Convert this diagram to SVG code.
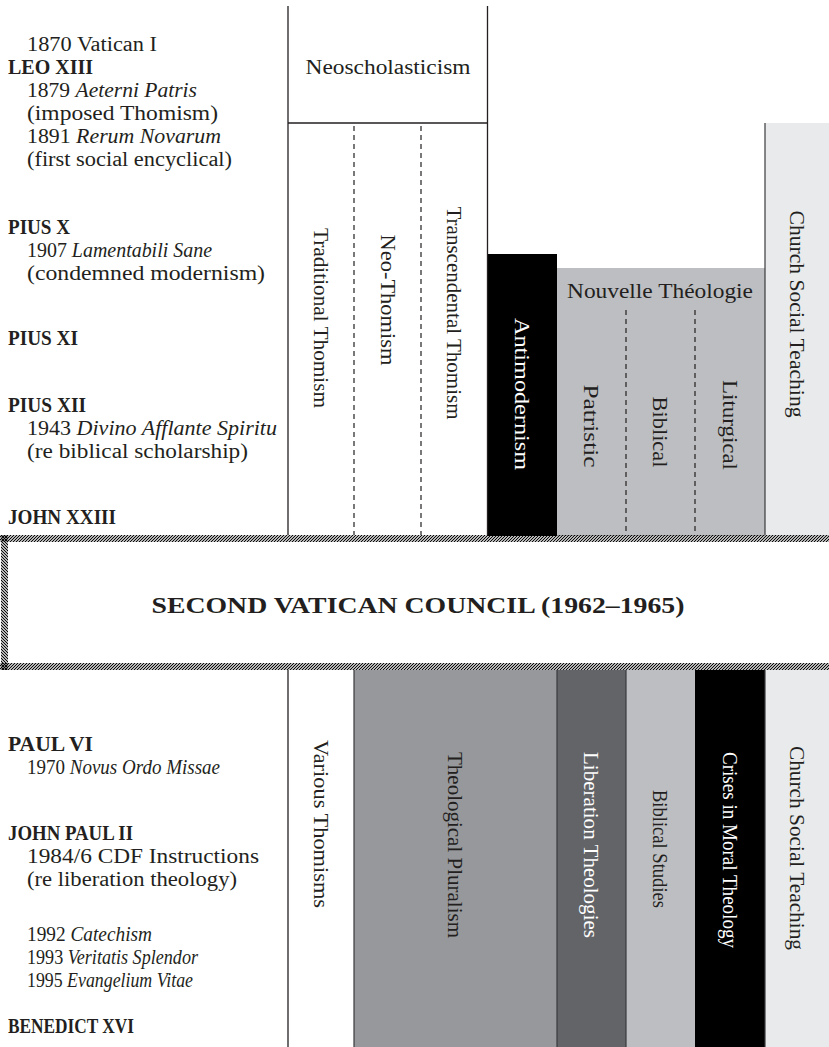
<svg xmlns="http://www.w3.org/2000/svg" width="829" height="1047" viewBox="0 0 829 1047">
<defs>
<pattern id="hatchF" patternUnits="userSpaceOnUse" width="3" height="3">
<path d="M-1,1 L1,-1 M0,3 L3,0 M2,4 L4,2" stroke="#000" stroke-width="1.1"/>
</pattern>
<pattern id="hatchB" patternUnits="userSpaceOnUse" width="3" height="3">
<path d="M-1,2 L1,4 M0,0 L3,3 M2,-1 L4,1" stroke="#000" stroke-width="1.1"/>
</pattern>
</defs>
<style>
text{font-family:"Liberation Serif","Times New Roman",serif;font-size:20px;fill:#231f20}
.b{font-weight:bold}
.i{font-style:italic}
.v{text-anchor:middle;dominant-baseline:central}
.w{fill:#fff}
.ln{stroke:#231f20;stroke-width:1.3;fill:none}
.dash{stroke:#231f20;stroke-width:1.2;stroke-dasharray:5,4;fill:none}
.edge{stroke:#3a3a3c;stroke-width:1.2}
</style>
<rect width="829" height="1047" fill="#fff"/>

<g id="popes-before">
<text x="27" y="51" textLength="130" lengthAdjust="spacingAndGlyphs">1870 Vatican I</text>
<text x="8" y="74" class="b" textLength="85" lengthAdjust="spacingAndGlyphs">LEO XIII</text>
<text x="27" y="97" textLength="170" lengthAdjust="spacingAndGlyphs">1879 <tspan class="i">Aeterni Patris</tspan></text>
<text x="27" y="120" textLength="191" lengthAdjust="spacingAndGlyphs">(imposed Thomism)</text>
<text x="27" y="143" textLength="194" lengthAdjust="spacingAndGlyphs">1891 <tspan class="i">Rerum Novarum</tspan></text>
<text x="27" y="166" textLength="205" lengthAdjust="spacingAndGlyphs">(first social encyclical)</text>
<text x="8" y="234" class="b" textLength="62" lengthAdjust="spacingAndGlyphs">PIUS X</text>
<text x="27" y="257" textLength="185" lengthAdjust="spacingAndGlyphs">1907 <tspan class="i">Lamentabili Sane</tspan></text>
<text x="27" y="280" textLength="238" lengthAdjust="spacingAndGlyphs">(condemned modernism)</text>
<text x="8" y="345" class="b" textLength="70" lengthAdjust="spacingAndGlyphs">PIUS XI</text>
<text x="8" y="412" class="b" textLength="78" lengthAdjust="spacingAndGlyphs">PIUS XII</text>
<text x="27" y="435" textLength="250" lengthAdjust="spacingAndGlyphs">1943 <tspan class="i">Divino Afflante Spiritu</tspan></text>
<text x="27" y="458" textLength="221" lengthAdjust="spacingAndGlyphs">(re biblical scholarship)</text>
<text x="8" y="524" class="b" textLength="108" lengthAdjust="spacingAndGlyphs">JOHN XXIII</text>
</g>

<g id="neoscholasticism">
<text x="388" y="74" text-anchor="middle" textLength="165" lengthAdjust="spacingAndGlyphs">Neoscholasticism</text>
</g>

<g id="church-social-top">
<rect x="765" y="123" width="64" height="413" fill="#e9eaec"/>
<text class="v" transform="translate(797,314) rotate(90)" textLength="207" lengthAdjust="spacingAndGlyphs">Church Social Teaching</text>
</g>

<g id="antimodernism">
<rect x="487" y="254" width="70" height="282" fill="#000"/>
<text class="v w" transform="translate(522,394) rotate(90)" textLength="152" lengthAdjust="spacingAndGlyphs">Antimodernism</text>
</g>

<g id="nouvelle">
<rect x="557" y="268" width="208" height="268" fill="#bdbec1"/>
<text x="660" y="298" text-anchor="middle" textLength="186" lengthAdjust="spacingAndGlyphs">Nouvelle Théologie</text>
</g>

<g id="traditional-thomism"><text class="v" transform="translate(321,318) rotate(90)" textLength="180" lengthAdjust="spacingAndGlyphs">Traditional Thomism</text></g>
<g id="neo-thomism"><text class="v" transform="translate(388,300) rotate(90)" textLength="131" lengthAdjust="spacingAndGlyphs">Neo-Thomism</text></g>
<g id="transcendental-thomism"><text class="v" transform="translate(454,313) rotate(90)" textLength="213" lengthAdjust="spacingAndGlyphs">Transcendental Thomism</text></g>
<g id="patristic"><text class="v" transform="translate(591,426) rotate(90)" textLength="83" lengthAdjust="spacingAndGlyphs">Patristic</text></g>
<g id="biblical"><text class="v" transform="translate(660,432) rotate(90)" textLength="71" lengthAdjust="spacingAndGlyphs">Biblical</text></g>
<g id="liturgical"><text class="v" transform="translate(730,425) rotate(90)" textLength="90" lengthAdjust="spacingAndGlyphs">Liturgical</text></g>

<g id="council">
<rect x="0" y="535" width="829" height="7" fill="url(#hatchF)"/>
<rect x="0" y="663" width="829" height="7" fill="url(#hatchF)"/>
<rect x="1" y="535" width="7" height="135" fill="url(#hatchB)"/>
<text x="418" y="613" text-anchor="middle" class="b" textLength="533" lengthAdjust="spacingAndGlyphs" style="font-size:23px">SECOND VATICAN COUNCIL (1962–1965)</text>
</g>

<g id="popes-after">
<text x="8" y="751" class="b" textLength="85" lengthAdjust="spacingAndGlyphs">PAUL VI</text>
<text x="27" y="774" textLength="193" lengthAdjust="spacingAndGlyphs">1970 <tspan class="i">Novus Ordo Missae</tspan></text>
<text x="8" y="840" class="b" textLength="125" lengthAdjust="spacingAndGlyphs">JOHN PAUL II</text>
<text x="27" y="863" textLength="232" lengthAdjust="spacingAndGlyphs">1984/6 CDF Instructions</text>
<text x="27" y="886" textLength="210" lengthAdjust="spacingAndGlyphs">(re liberation theology)</text>
<text x="27" y="941" textLength="125" lengthAdjust="spacingAndGlyphs">1992 <tspan class="i">Catechism</tspan></text>
<text x="27" y="964" textLength="171" lengthAdjust="spacingAndGlyphs">1993 <tspan class="i">Veritatis Splendor</tspan></text>
<text x="27" y="987" textLength="166" lengthAdjust="spacingAndGlyphs">1995 <tspan class="i">Evangelium Vitae</tspan></text>
<text x="8" y="1033" class="b" textLength="126" lengthAdjust="spacingAndGlyphs">BENEDICT XVI</text>
</g>

<g id="various-thomisms"><text class="v" transform="translate(321,824) rotate(90)" textLength="168" lengthAdjust="spacingAndGlyphs">Various Thomisms</text></g>
<g id="theological-pluralism">
<rect x="354" y="670" width="203" height="377" fill="#97989b"/>
<text class="v" transform="translate(455,845) rotate(90)" textLength="186" lengthAdjust="spacingAndGlyphs">Theological Pluralism</text>
</g>
<g id="liberation-theologies">
<rect x="557" y="670" width="69" height="377" fill="#636468"/>
<text class="v w" transform="translate(591,845) rotate(90)" textLength="186" lengthAdjust="spacingAndGlyphs">Liberation Theologies</text>
</g>
<g id="biblical-studies">
<rect x="626" y="670" width="69" height="377" fill="#bdbec1"/>
<text class="v" transform="translate(660,849) rotate(90)" textLength="118" lengthAdjust="spacingAndGlyphs">Biblical Studies</text>
</g>
<g id="crises">
<rect x="695" y="670" width="70" height="377" fill="#000"/>
<text class="v w" transform="translate(730,850) rotate(90)" textLength="196" lengthAdjust="spacingAndGlyphs">Crises in Moral Theology</text>
</g>
<g id="church-social-bottom">
<rect x="765" y="670" width="64" height="377" fill="#e9eaec"/>
<text class="v" transform="translate(797,848) rotate(90)" textLength="204" lengthAdjust="spacingAndGlyphs">Church Social Teaching</text>
</g>

<g id="connectors">
<line class="ln" x1="288" y1="6" x2="288" y2="535"/>
<line class="ln" x1="487.5" y1="6" x2="487.5" y2="535"/>
<line class="ln" x1="288" y1="123" x2="487.5" y2="123"/>
<line class="dash" x1="354" y1="126" x2="354" y2="535"/>
<line class="dash" x1="421" y1="126" x2="421" y2="535"/>
<line class="dash" x1="626" y1="310" x2="626" y2="535"/>
<line class="dash" x1="695" y1="310" x2="695" y2="535"/>
<line class="edge" x1="765" y1="123" x2="765" y2="535"/>
<line class="ln" x1="288" y1="670" x2="288" y2="1047"/>
<line class="edge" x1="354" y1="670" x2="354" y2="1047"/>
<line class="edge" x1="557" y1="670" x2="557" y2="1047"/>
<line class="edge" x1="626" y1="670" x2="626" y2="1047" stroke="#9a9b9e"/>
<line class="edge" x1="765" y1="670" x2="765" y2="1047"/>
</g>
</svg>
